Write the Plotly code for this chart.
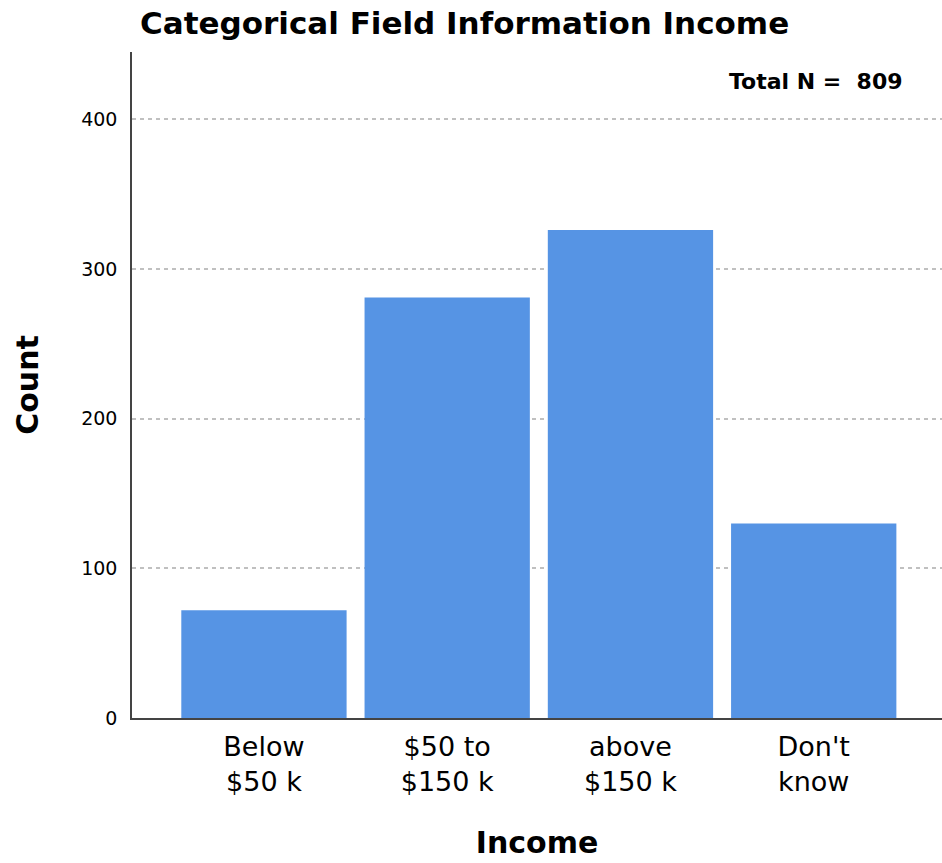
import plotly.graph_objects as go

categories = ["Below<br>$50 k", "$50 to<br>$150 k", "above<br>$150 k", "Don't<br>know"]
counts = [72, 281, 326, 130]
y_ticks = [0, 100, 200, 300, 400]
total_n = sum(counts)

fig = go.Figure()
fig.add_trace(go.Bar(
    x=list(range(len(categories))),
    y=counts,
    marker=dict(color="#5694e4", line=dict(width=0)),
    hoverinfo="y",
))

fig.update_layout(
    width=942, height=863,
    margin=dict(l=132, r=0, t=52, b=145),
    paper_bgcolor="white", plot_bgcolor="white",
    bargap=0.098,
    showlegend=False,
    font=dict(family="DejaVu Sans", color="black"),
    title=dict(text="<b>Categorical Field Information Income</b>",
               x=140/942, xanchor="left", y=1-23/863, yanchor="middle",
               font=dict(size=31, color="black")),
    xaxis=dict(
        range=[-0.72, 3.70],
        tickmode="array", tickvals=list(range(len(categories))), ticktext=categories,
        tickfont=dict(size=27, color="black"),
        ticklabelstandoff=4,
        showgrid=False, zeroline=False,
        showline=True, linecolor="#444444", linewidth=1.5,
        ticks="",
        title=dict(text="<b>Income</b>", font=dict(size=30, color="black"), standoff=36),
    ),
    yaxis=dict(
        range=[0, 445],
        tickmode="array", tickvals=y_ticks,
        tickfont=dict(size=19, color="black"),
        ticklabelstandoff=9,
        showgrid=True, gridcolor="#c0c0c0", griddash="4px,4px", gridwidth=1.5,
        zeroline=False,
        showline=True, linecolor="#444444", linewidth=1.5,
        ticks="", ticklen=0,
        title=dict(text="<b>Count</b>", font=dict(size=30, color="black"), standoff=34),
    ),
)

fig.add_annotation(
    text=f"<b>Total N =  {total_n}</b>",
    xref="paper", yref="paper", x=(905 - 132) / 810, y=1 - (82 - 52) / 666,
    xanchor="right", yanchor="middle", showarrow=False,
    font=dict(size=22, color="black"),
)

fig.write_html("out.html")
